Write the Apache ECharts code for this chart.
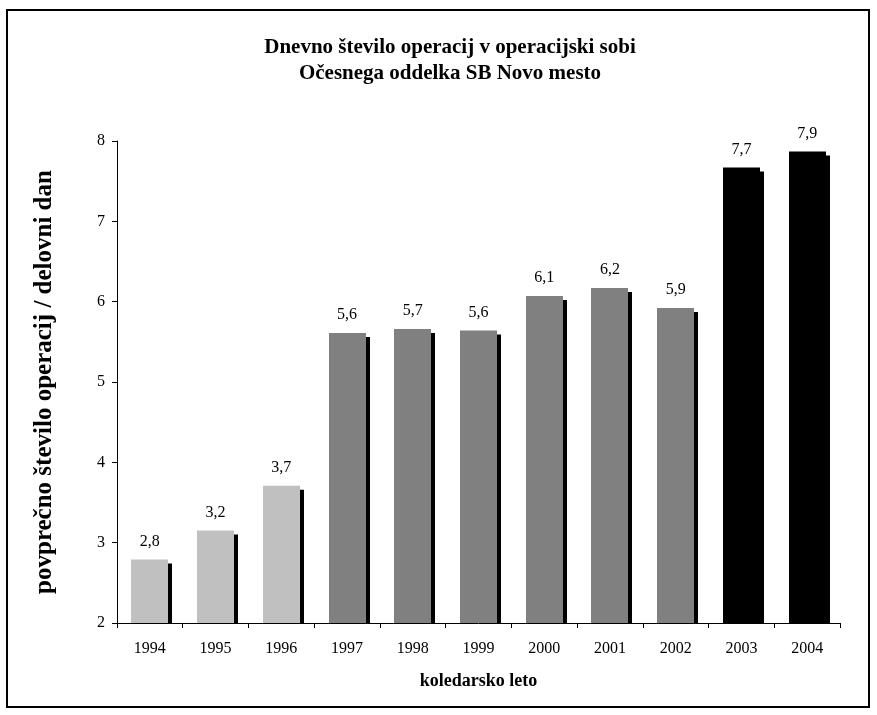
<!DOCTYPE html>
<html>
<head>
<meta charset="utf-8">
<script src="https://cdn.jsdelivr.net/npm/echarts@6/dist/echarts.min.js"></script>
<style>
  html, body { margin: 0; padding: 0; background: #fff; }
  #chart { width: 877px; height: 715px; }
</style>
</head>
<body>
<div id="chart"></div>
<script>
// Average daily number of operations per working day, by calendar year
const years = ['1994', '1995', '1996', '1997', '1998', '1999', '2000', '2001', '2002', '2003', '2004'];
const values = [2.79, 3.15, 3.71, 5.61, 5.66, 5.64, 6.07, 6.17, 5.92, 7.67, 7.87];
const barColors = ['#c0c0c0', '#c0c0c0', '#c0c0c0',
                   '#808080', '#808080', '#808080', '#808080', '#808080', '#808080',
                   '#000000', '#000000'];
const yMin = 2, yMax = 8, yStep = 1;

const FONT = '"Liberation Serif", "Times New Roman", serif';

function fmt(v) {
  return (Math.round(v * 10) / 10).toFixed(1).replace('.', ',');
}

// Each bar carries a solid black drop shadow offset down and to the right,
// trimmed at the baseline so it never crosses the category axis.
function renderBar(params, api) {
  const i = params.dataIndex;
  const top = api.coord([api.value(0), api.value(1)]);
  const base = api.coord([api.value(0), yMin]);
  const band = api.size([1, 0])[0];
  const w = Math.round(band * 0.56);
  const x = Math.round(top[0] - w / 2);
  const off = 4;
  return {
    type: 'group',
    children: [
      {
        type: 'rect',
        shape: { x: x + off, y: top[1] + off, width: w, height: Math.max(0, base[1] - top[1] - off) },
        style: { fill: '#000000' }
      },
      {
        type: 'rect',
        shape: { x: x, y: top[1], width: w, height: base[1] - top[1] },
        style: { fill: barColors[i] }
      },
      {
        type: 'text',
        x: top[0],
        y: top[1] - 18,
        style: {
          text: fmt(api.value(1)),
          align: 'center',
          verticalAlign: 'middle',
          fill: '#000',
          font: '16px ' + FONT
        }
      }
    ]
  };
}

const chart = echarts.init(document.getElementById('chart'), null, { renderer: 'canvas' });

chart.setOption({
  backgroundColor: '#ffffff',
  animation: false,
  textStyle: { fontFamily: FONT, color: '#000' },
  title: {
    text: 'Dnevno število operacij v operacijski sobi\nOčesnega oddelka SB Novo mesto',
    left: 445,
    top: 30,
    textAlign: 'center',
    textStyle: {
      fontFamily: FONT,
      fontWeight: 'bold',
      fontSize: 21,
      lineHeight: 26,
      color: '#000'
    }
  },
  graphic: [{
    type: 'rect',
    shape: { x: 7, y: 10, width: 862, height: 697 },
    style: { fill: 'none', stroke: '#000', lineWidth: 2 },
    silent: true,
    z: 100
  }],
  grid: { left: 117, right: 37, top: 141, bottom: 92, containLabel: false },
  xAxis: {
    type: 'category',
    data: years,
    boundaryGap: true,
    name: 'koledarsko leto',
    nameLocation: 'middle',
    nameGap: 49,
    nameTextStyle: { fontFamily: FONT, fontWeight: 'bold', fontSize: 18, color: '#000' },
    axisLine: { lineStyle: { color: '#000', width: 1 } },
    axisTick: { show: true, length: 5, alignWithLabel: false, lineStyle: { color: '#000' } },
    axisLabel: { fontFamily: FONT, fontSize: 16, color: '#000', margin: 18 },
    splitLine: { show: false }
  },
  yAxis: {
    type: 'value',
    min: yMin,
    max: yMax,
    interval: yStep,
    name: 'povprečno število operacij / delovni dan',
    nameLocation: 'middle',
    nameGap: 60,
    nameTextStyle: { fontFamily: FONT, fontWeight: 'bold', fontSize: 25, color: '#000' },
    axisLine: { show: true, lineStyle: { color: '#000', width: 1 } },
    axisTick: { show: true, length: 5, lineStyle: { color: '#000' } },
    axisLabel: { fontFamily: FONT, fontSize: 16, color: '#000', margin: 12 },
    splitLine: { show: false }
  },
  series: [{
    type: 'custom',
    renderItem: renderBar,
    encode: { x: 0, y: 1 },
    data: years.map((y, i) => [i, values[i]]),
    z: 2
  }]
});
</script>
</body>
</html>
